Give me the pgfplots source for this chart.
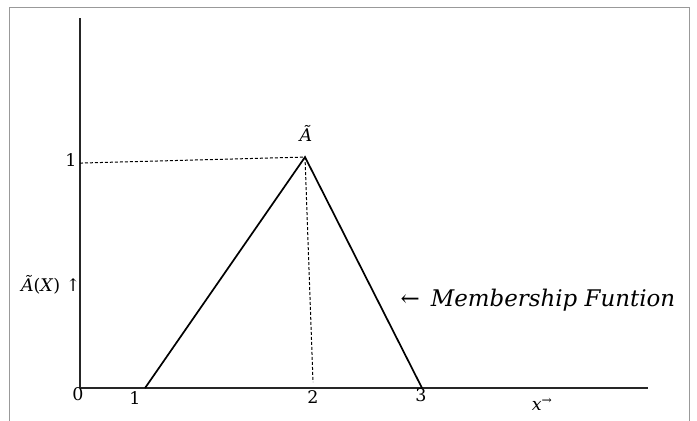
\documentclass[border=0pt]{standalone}
\usepackage{pgfplots}
\pgfplotsset{compat=1.18}
\usepackage{fontspec}
\setmainfont{DejaVu Serif}

\begin{document}
\begin{tikzpicture}
  \begin{axis}[
    scale only axis,
    width=568bp,
    height=370bp,
    xmin=0, xmax=5.049,
    ymin=0, ymax=1.602,
    axis lines=left,
    axis line style={-, line width=2bp, black!85},
    xtick=\empty, ytick=\empty,
    clip=false,
  ]
    % membership function
    \addplot[line width=1.7bp, black] coordinates {(0.578,0) (2,1) (3.04,0)};
    % guide lines to the peak
    \addplot[dash pattern=on 3bp off 2bp, line width=1bp, black] coordinates {(0,0.974) (2,1)};
    \addplot[dash pattern=on 3bp off 2bp, line width=1bp, black] coordinates {(2,1) (2.071,0.026)};

    % labels
    \begin{scope}[every node/.style={font=\fontsize{17.5}{20}\selectfont}]
      \node at (axis cs:-0.018,-0.026) {0};
      \node at (axis cs:0.489,-0.043) {1};
      \node at (axis cs:2.071,-0.039) {2};
      \node at (axis cs:3.031,-0.030) {3};
      \node at (axis cs:-0.08,0.987) {1};
      \node at (axis cs:2.009,1.104) {\itshape Ã};
      \node at (axis cs:-0.26,0.446) {\textit{Ã}(\textit{X}) ↑};
      \node at (axis cs:4.107,-0.070) {\textit{x}\textsuperscript{→}};
    \end{scope}
    \node[font=\fontsize{23}{27}\selectfont] at (axis cs:4.07,0.381) {←\, \textit{Membership Funtion}};

    % outer frame
    \draw[gray!80, line width=0.9bp] (axis cs:-0.631,-0.2) -- (axis cs:-0.631,1.649) -- (axis cs:5.413,1.649) -- (axis cs:5.413,-0.2);
    \coordinate (bl) at (axis cs:-0.711,-0.1385);
    \coordinate (tr) at (axis cs:5.484,1.680);
  \end{axis}
  \pgfresetboundingbox
  \path[use as bounding box] (bl) rectangle (tr);
\end{tikzpicture}
\end{document}
